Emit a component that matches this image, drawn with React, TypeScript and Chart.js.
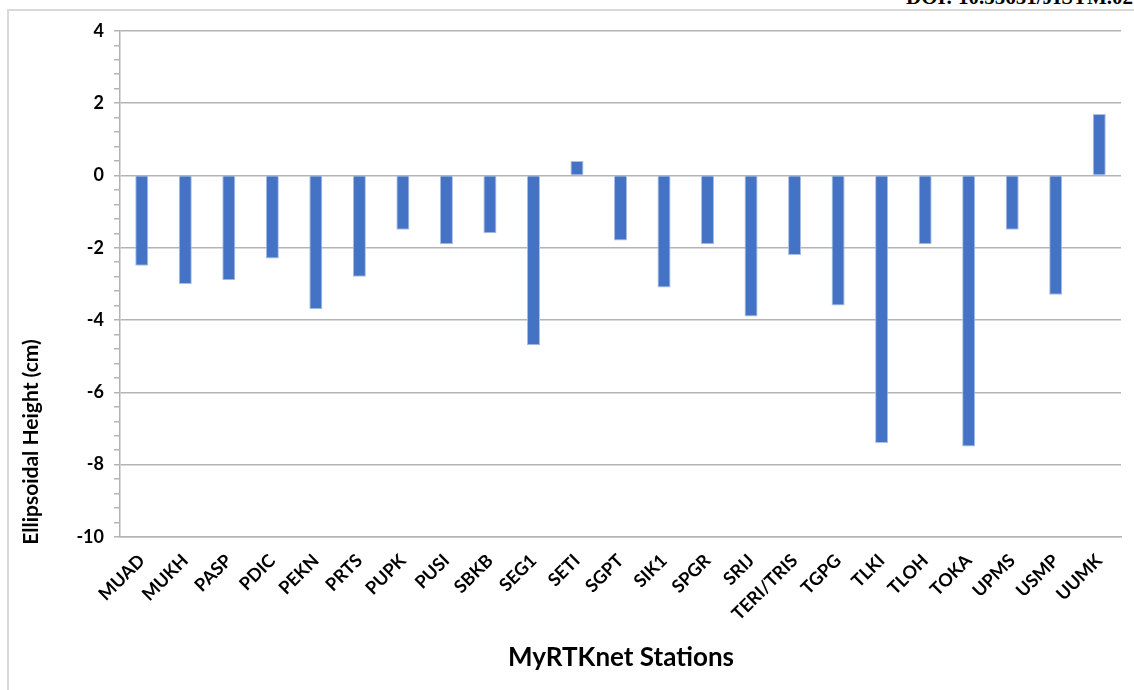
import React, { useEffect, useRef } from "react";
import { Chart, registerables } from "chart.js";

Chart.register(...registerables);

const stations = [
  "MUAD", "MUKH", "PASP", "PDIC", "PEKN", "PRTS", "PUPK", "PUSI", "SBKB", "SEG1",
  "SETI", "SGPT", "SIK1", "SPGR", "SRIJ", "TERI/TRIS", "TGPG", "TLKI", "TLOH", "TOKA",
  "UPMS", "USMP", "UUMK",
];

const heightChange = [
  -2.5, -3.0, -2.9, -2.3, -3.7, -2.8, -1.5, -1.9, -1.6, -4.7,
  0.4, -1.8, -3.1, -1.9, -3.9, -2.2, -3.6, -7.4, -1.9, -7.5,
  -1.5, -3.3, 1.7,
];

const yMin = -10;
const yMax = 4;
const yMajorStep = 2;
const yMinorStep = 0.4;

const yTitle = "Ellipsoidal Height (cm)";
const xTitle = "MyRTKnet Stations";
const doiText = "DOI: 10.55651/JISTM.02";

const FONT = "Lato, 'Open Sans', sans-serif";
const GRID = "#b4b4b4";

const isMajor = (v: number) => Math.abs(v / yMajorStep - Math.round(v / yMajorStep)) < 1e-6;

// Draws the two axis titles at fixed spots around the plot
const axisTitles = {
  id: "axisTitles",
  afterDraw(chart: any) {
    const ctx = chart.ctx;
    ctx.save();
    ctx.fillStyle = "#000";
    ctx.textAlign = "center";
    ctx.textBaseline = "middle";
    ctx.font = `bold 26px ${FONT}`;
    ctx.fillText(xTitle, 613, 648);
    ctx.font = `bold 21px ${FONT}`;
    ctx.translate(23, 432);
    ctx.rotate(-Math.PI / 2);
    ctx.fillText(yTitle, 0, 0);
    ctx.restore();
  },
};

export default function App() {
  const canvasRef = useRef<HTMLCanvasElement | null>(null);

  useEffect(() => {
    if (!canvasRef.current) return;
    const chart = new Chart(canvasRef.current, {
      type: "bar",
      data: {
        labels: stations,
        datasets: [
          {
            data: heightChange,
            backgroundColor: "#4472C4",
            borderColor: "#a9bfe6",
            borderWidth: 1,
            barPercentage: 0.3,
            categoryPercentage: 1,
          },
        ],
      },
      options: {
        responsive: false,
        animation: false,
        layout: { padding: { top: 20, right: 13, left: 0, bottom: 0 } },
        plugins: {
          legend: { display: false },
          tooltip: { enabled: false },
        },
        scales: {
          x: {
            grid: { drawOnChartArea: false, drawTicks: false },
            border: { display: true, color: GRID, width: 1.5 },
            ticks: {
              autoSkip: false,
              minRotation: 45,
              maxRotation: 45,
              padding: 13,
              color: "#000",
              font: { family: FONT, weight: "bold", size: 18 },
            },
            afterFit(scale: any) {
              scale.height = 153;
            },
          },
          y: {
            min: yMin,
            max: yMax,
            grid: {
              color: (c: any) => (c.tick && isMajor(c.tick.value) ? GRID : "rgba(0,0,0,0)"),
              tickColor: GRID,
              tickLength: 6,
              lineWidth: 1.5,
            },
            border: { display: true, color: GRID, width: 1.5 },
            ticks: {
              stepSize: yMinorStep,
              autoSkip: false,
              padding: 10,
              color: "#000",
              font: { family: FONT, weight: "bold", size: 18 },
              callback: (v: any) => (isMajor(Number(v)) ? String(Math.round(Number(v))) : ""),
            },
            afterFit(scale: any) {
              scale.width = 112;
            },
          },
        },
      },
      plugins: [axisTitles],
    });
    return () => chart.destroy();
  }, []);

  return (
    <div
      style={{
        position: "absolute",
        left: 0,
        top: 0,
        width: 1134,
        height: 690,
        overflow: "hidden",
        background: "#fff",
      }}
    >
      <div
        style={{
          position: "absolute",
          right: 1,
          top: -13,
          fontFamily: "'Liberation Serif', 'DejaVu Serif', serif",
          fontWeight: "bold",
          fontSize: 21,
          lineHeight: "21px",
          whiteSpace: "nowrap",
          color: "#000",
        }}
      >
        {doiText}
      </div>
      <div
        style={{
          position: "absolute",
          left: 7,
          top: 9,
          width: 1160,
          height: 720,
          border: "2px solid #d9d9d9",
        }}
      />
      <canvas
        ref={canvasRef}
        width={1126}
        height={680}
        style={{ position: "absolute", left: 8, top: 10, width: 1126, height: 680 }}
      />
    </div>
  );
}
